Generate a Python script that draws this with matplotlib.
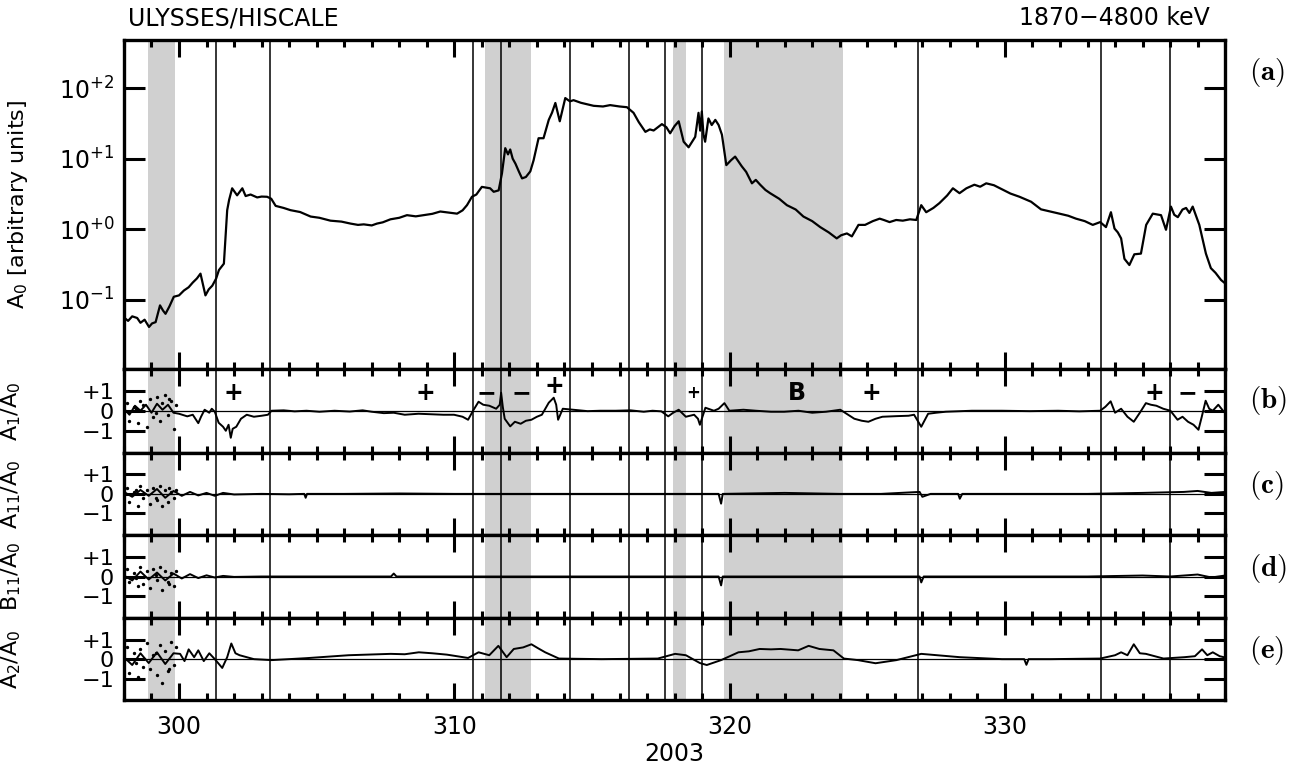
import numpy as np
import matplotlib
matplotlib.use("Agg")
import matplotlib.pyplot as plt
from matplotlib.ticker import FixedLocator, MultipleLocator

plt.rcParams['font.family'] = ['DejaVu Sans']
plt.rcParams['mathtext.fontset'] = 'dejavusans'

# ---- data (day of year 2003) ----
a0_day = [298.0, 298.15, 298.3, 298.48, 298.6, 298.75, 298.91, 299.02, 299.15, 299.31, 299.42,
          299.51, 299.65, 299.81, 300.0, 300.18, 300.35, 300.5, 300.65, 300.78, 300.96, 301.08,
          301.21, 301.35, 301.45, 301.63, 301.69, 301.75, 301.82, 301.93, 302.11, 302.3, 302.42,
          302.6, 302.84, 303.0, 303.2, 303.35, 303.51, 303.8, 304.05, 304.4, 304.78, 305.1, 305.5,
          305.9, 306.23, 306.5, 306.71, 307.0, 307.19, 307.4, 307.68, 308.0, 308.28, 308.6,
          308.89, 309.2, 309.49, 309.8, 310.1, 310.3, 310.46, 310.64, 310.8, 311.0, 311.3, 311.43,
          311.61, 311.73, 311.85, 311.95, 312.03, 312.12, 312.22, 312.35, 312.46, 312.6, 312.76,
          312.88, 313.06, 313.24, 313.43, 313.55, 313.67, 313.83, 314.03, 314.2, 314.33, 314.6,
          315.06, 315.4, 315.66, 316.0, 316.27, 316.51, 316.7, 316.94, 317.1, 317.24, 317.54,
          317.7, 317.84, 318.0, 318.15, 318.33, 318.51, 318.75, 318.87, 318.93, 318.99, 319.05,
          319.11, 319.23, 319.35, 319.48, 319.6, 319.72, 319.88, 320.05, 320.2, 320.44, 320.6,
          320.81, 320.95, 321.11, 321.3, 321.47, 321.8, 322.08, 322.4, 322.68, 323.0, 323.29,
          323.6, 323.89, 324.05, 324.26, 324.44, 324.68, 324.92, 325.2, 325.45, 325.6, 325.81,
          326.05, 326.29, 326.55, 326.78, 326.96, 327.14, 327.4, 327.62, 327.9, 328.11, 328.35,
          328.6, 328.89, 329.1, 329.32, 329.6, 329.92, 330.2, 330.53, 330.95, 331.31, 331.6,
          331.98, 332.3, 332.58, 332.9, 333.19, 333.46, 333.67, 333.85, 333.98, 334.1, 334.22,
          334.34, 334.52, 334.7, 334.94, 335.13, 335.37, 335.67, 335.85, 336.03, 336.15, 336.28,
          336.45, 336.58, 336.7, 336.82, 337.06, 337.3, 337.48, 337.65, 337.85, 338.0]
a0_val = [0.056, 0.050, 0.058, 0.055, 0.047, 0.052, 0.041, 0.046, 0.048, 0.083, 0.070,
          0.063, 0.080, 0.110, 0.115, 0.135, 0.150, 0.175, 0.200, 0.234, 0.115, 0.140,
          0.158, 0.200, 0.263, 0.324, 0.776, 1.86, 2.6, 3.80, 3.02, 3.80, 2.95,
          3.1, 2.82, 2.9, 2.88, 2.7, 2.14, 2.0, 1.86, 1.75, 1.51, 1.45, 1.32,
          1.28, 1.20, 1.15, 1.17, 1.13, 1.20, 1.25, 1.38, 1.45, 1.58, 1.52,
          1.58, 1.65, 1.78, 1.72, 1.66, 1.85, 2.19, 2.88, 3.1, 3.98, 3.80, 3.39,
          3.55, 6.17, 14.1, 11.5, 13.5, 10.0, 8.5, 6.5, 5.25, 5.5, 6.6,
          9.5, 19.5, 19.5, 35.5, 45.0, 61.7, 33.9, 72.4, 65.0, 67.6, 62.0,
          56.2, 55.0, 57.5, 55.0, 53.7, 44.7, 33.0, 24.0, 26.0, 25.1, 30.9,
          28.0, 22.9, 29.0, 33.9, 17.4, 14.5, 20.4, 44.7, 25.0, 46.8, 22.0,
          17.4, 37.2, 30.0, 35.5, 30.0, 21.9, 8.1, 9.5, 10.7, 7.8, 6.5,
          4.47, 5.0, 4.27, 3.6, 3.24, 2.7, 2.19, 1.9, 1.51, 1.3, 1.07,
          0.9, 0.74, 0.82, 0.87, 0.79, 1.15, 1.15, 1.3, 1.41, 1.35, 1.26,
          1.35, 1.32, 1.38, 1.35, 2.19, 1.74, 2.0, 2.34, 3.0, 3.80, 3.24,
          3.8, 4.27, 4.0, 4.47, 4.2, 3.63, 3.2, 2.88, 2.45, 1.91, 1.8,
          1.66, 1.55, 1.41, 1.3, 1.15, 1.26, 1.07, 1.74, 1.02, 0.9, 0.74,
          0.38, 0.31, 0.44, 0.45, 1.15, 1.66, 1.58, 0.98, 2.09, 1.6, 1.48,
          1.9, 2.0, 1.7, 2.09, 1.15, 0.45, 0.28, 0.24, 0.19, 0.17]

a1_day = [298.0, 298.2, 298.4, 298.6, 298.8, 299.0, 299.2, 299.4, 299.6, 299.8, 300.0, 300.3,
          300.5, 300.7, 300.8, 300.93, 301.1, 301.19, 301.3, 301.44, 301.6, 301.7, 301.8, 301.88,
          301.95, 302.08, 302.25, 302.46, 302.72, 303.0, 303.23, 303.36, 303.8, 304.2, 304.63,
          305.1, 305.65, 306.2, 306.67, 307.0, 307.44, 307.8, 308.2, 308.7, 309.22, 309.6, 309.99,
          310.3, 310.5, 310.68, 310.88, 311.05, 311.27, 311.52, 311.65, 311.7, 311.76, 311.83,
          312.03, 312.2, 312.41, 312.6, 312.8, 313.0, 313.18, 313.43, 313.61, 313.7, 313.77,
          313.94, 314.3, 314.84, 315.3, 315.86, 316.4, 316.88, 317.2, 317.52, 317.77, 317.95,
          318.15, 318.41, 318.71, 318.85, 318.92, 319.12, 319.43, 319.6, 319.81, 319.99, 320.5,
          320.96, 321.5, 321.98, 322.5, 323.0, 323.5, 324.02, 324.3, 324.53, 324.8, 325.04, 325.3,
          325.55, 326.06, 326.5, 326.7, 326.96, 327.21, 327.5, 327.85, 328.8, 329.89, 330.9,
          331.93, 332.7, 333.46, 333.65, 333.84, 334.0, 334.22, 334.45, 334.68, 334.9, 335.12,
          335.3, 335.5, 335.75, 336.01, 336.27, 336.45, 336.65, 336.85, 337.03, 337.15, 337.29,
          337.42, 337.55, 337.75, 337.95]
a1_val = [0.1, -0.2, 0.25, 0.0, 0.3, -0.1, 0.35, 0.05, 0.3, -0.1, -0.15, -0.28,
          -0.2, -0.62, -0.3, 0.05, -0.1, 0.1, -0.05, -0.6, -0.8, -1.0, -0.7, -1.35,
          -0.9, -0.8, -0.4, -0.2, -0.3, -0.25, -0.2, 0.0, 0.02, -0.03, 0.0,
          -0.05, 0.0, -0.04, 0.02, -0.05, -0.12, -0.1, -0.2, -0.15, -0.18, -0.2, -0.2,
          -0.3, -0.45, 0.0, 0.45, 0.3, 0.25, 0.1, 0.3, 0.9, 0.2, -0.4,
          -0.78, -0.55, -0.65, -0.5, -0.45, -0.3, -0.2, 0.4, 0.65, 0.3, -0.45,
          0.1, 0.05, -0.02, 0.0, 0.0, 0.02, -0.05, 0.0, -0.03, -0.28, -0.1,
          0.05, -0.3, -0.2, -0.4, -0.7, 0.15, 0.0, 0.1, 0.38, 0.0, 0.05,
          0.0, -0.05, -0.05, 0.0, -0.1, -0.05, 0.05, -0.2, -0.4, -0.5, -0.55, -0.4,
          -0.3, -0.27, -0.25, -0.2, -0.8, -0.15, -0.1, -0.05, 0.0, 0.0, -0.02,
          0.0, -0.03, 0.0, 0.2, 0.47, -0.1, 0.1, -0.3, -0.55, -0.1, 0.38,
          0.3, 0.25, 0.1, 0.0, -0.45, -0.3, -0.55, -0.7, -0.95, -0.3, 0.5,
          0.1, 0.0, 0.3, -0.05]

a11_day = [298.0, 298.3, 298.6, 298.9, 299.2, 299.5, 299.8, 300.1, 300.4, 300.7, 301.0, 301.3,
           301.6, 302.0, 303.0, 304.0, 304.55, 304.6, 304.65, 306.0, 308.0, 310.0, 312.0, 314.0,
           316.0, 318.0, 319.6, 319.69, 319.75, 322.0, 324.0, 325.5, 326.9, 327.0, 327.3, 328.3,
           328.36, 328.45, 329.0, 333.0, 335.0, 336.5, 337.0, 337.5, 338.0]
a11_val = [0.1, -0.15, 0.2, -0.1, 0.25, -0.2, 0.15, -0.1, 0.1, -0.08, 0.05, -0.1,
           0.05, -0.03, 0.0, -0.02, 0.0, -0.2, 0.0, 0.0, 0.02, 0.0, 0.0, 0.0,
           0.0, 0.0, 0.0, -0.5, 0.0, 0.05, 0.0, 0.0, 0.1, -0.15, 0.0, 0.0,
           -0.25, 0.0, 0.0, 0.0, 0.05, 0.1, 0.15, 0.05, 0.1]

b11_day = [298.0, 298.3, 298.6, 298.9, 299.2, 299.5, 299.8, 300.1, 300.4, 300.7, 301.0, 301.3,
           301.6, 302.0, 303.0, 305.0, 307.7, 307.8, 307.9, 310.0, 312.0, 314.0, 316.0, 318.0,
           319.6, 319.69, 319.75, 322.0, 324.0, 326.9, 326.96, 327.05, 329.0, 331.0, 333.0,
           335.0, 336.0, 337.0, 337.5, 338.0]
b11_val = [0.05, -0.2, 0.25, -0.15, 0.2, -0.2, 0.15, -0.1, 0.12, -0.08, 0.06, -0.05,
           0.03, -0.02, 0.0, 0.0, 0.0, 0.15, 0.0, 0.0, 0.0, 0.0, 0.0, 0.0,
           0.0, -0.45, 0.0, 0.0, 0.0, 0.0, -0.3, 0.0, 0.0, 0.0, 0.0,
           0.05, 0.0, 0.1, -0.05, 0.05]

a2_day = [298.0, 298.3, 298.6, 298.9, 299.2, 299.5, 299.8, 300.04, 300.2, 300.35, 300.55,
          300.7, 300.9, 301.1, 301.3, 301.57, 301.75, 301.9, 302.05, 302.2, 302.72, 303.36,
          304.63, 306.16, 307.69, 308.2, 308.71, 309.2, 309.73, 310.5, 310.88, 311.27, 311.6,
          311.9, 312.16, 312.5, 312.8, 313.05, 313.3, 313.8, 315.35, 317.39, 318.02, 318.41,
          318.92, 319.17, 319.69, 320.32, 320.7, 321.09, 321.5, 321.85, 322.49, 322.87, 323.26,
          323.77, 324.15, 324.66, 325.3, 326.06, 326.96, 328.36, 329.89, 330.7, 330.78, 330.86,
          331.67, 333.46, 334.0, 334.22, 334.45, 334.68, 334.9, 335.12, 335.76, 336.52, 336.9,
          337.16, 337.35, 337.55, 337.8, 337.95]
a2_val = [0.1, -0.3, 0.3, -0.2, 0.35, -0.25, 0.3, 0.27, -0.1, 0.5, 0.1,
          0.45, -0.1, 0.3, 0.0, -0.45, 0.1, 0.8, 0.3, 0.2, 0.0, -0.05,
          0.05, 0.2, 0.27, 0.25, 0.35, 0.3, 0.23, 0.06, 0.35, 0.2, 0.68,
          0.1, 0.52, 0.6, 0.76, 0.55, 0.35, 0.03, 0.0, 0.03, 0.27, 0.2,
          -0.2, -0.3, -0.05, 0.35, 0.4, 0.52, 0.5, 0.52, 0.45, 0.68, 0.52,
          0.45, 0.03, -0.05, -0.21, -0.05, 0.27, 0.1, 0.0, 0.0, -0.29, 0.0,
          0.0, 0.03, 0.2, 0.35, 0.2, 0.76, 0.3, 0.27, 0.03, 0.1, 0.15,
          0.5, 0.2, 0.35, 0.15, 0.1]

# scattered points in the low-count interval at the start
dots_day = [298.1, 298.2, 298.35, 298.5, 298.6, 298.7, 298.85, 298.95, 299.05, 299.2,
            299.3, 299.4, 299.5, 299.6, 299.7, 299.8, 299.9, 298.45, 299.15, 299.65]
dots_a1 = [0.4, -0.5, 0.2, -0.6, 0.5, 0.3, -0.8, 0.6, -0.3, 0.7,
           -0.5, 0.4, 0.8, -0.2, 0.5, -0.9, 0.3, 0.1, -0.1, 0.6]
dots_a11 = [0.3, -0.4, 0.1, -0.6, 0.4, -0.2, 0.2, -0.5, 0.3, -0.3,
            0.4, -0.6, 0.2, -0.4, 0.1, -0.2, 0.2, 0.2, -0.2, 0.3]
dots_b11 = [0.4, -0.3, 0.2, -0.5, 0.5, -0.4, 0.3, -0.6, 0.4, -0.2,
            0.5, -0.7, 0.3, -0.3, 0.2, -0.5, 0.3, -0.1, 0.1, -0.4]
dots_a2 = [0.6, -0.7, 0.3, -0.9, 0.5, -0.4, 0.8, -0.5, 0.2, -0.8,
           0.7, -1.2, 0.4, -0.6, 0.9, -0.3, 0.6, -0.2, 0.3, -0.5]

shade_start = [298.87, 311.10, 317.93, 319.78]
shade_end = [299.84, 312.80, 318.42, 324.12]
event_lines = [301.34, 303.30, 310.67, 311.70, 314.19, 316.33, 317.65, 318.99,
               326.83, 333.50, 336.00]

mark_day = [301.96, 308.95, 311.16, 312.43, 313.64, 318.69, 322.44, 325.14, 335.42, 336.62]
mark_val = [0.9, 0.9, 0.9, 0.9, 1.25, 0.9, 0.9, 0.9, 0.9, 0.9]
mark_txt = ['+', '+', '−', '−', '+', '+', 'B', '+', '+', '−']
mark_size = [17, 17, 17, 17, 17, 12, 17, 17, 17, 17]

panel_tags = ['(a)', '(b)', '(c)', '(d)', '(e)']
ylabels = [r'A$_0$ [arbitrary units]', r'A$_1$/A$_0$', r'A$_{11}$/A$_0$',
           r'B$_{11}$/A$_0$', r'A$_2$/A$_0$']

# ---- figure ----
fig = plt.figure(figsize=(13.02, 7.72), dpi=100)
gs = fig.add_gridspec(5, 1, height_ratios=[328, 84, 82, 83, 82],
                      left=0.0952, right=0.941, top=0.948, bottom=0.093, hspace=0)
axes = [fig.add_subplot(gs[i]) for i in range(5)]

small = [(a1_day, a1_val, dots_a1), (a11_day, a11_val, dots_a11),
         (b11_day, b11_val, dots_b11), (a2_day, a2_val, dots_a2)]

for i, ax in enumerate(axes):
    for s, e in zip(shade_start, shade_end):
        ax.axvspan(s, e, color='#d0d0d0', lw=0, zorder=0)
    for d in event_lines:
        ax.axvline(d, color='black', lw=1.1, zorder=1)
    ax.set_xlim(298, 338)
    ax.xaxis.set_major_locator(MultipleLocator(10))
    ax.xaxis.set_minor_locator(MultipleLocator(1))
    ax.tick_params(axis='x', which='major', direction='in', length=12, width=2.2,
                   top=True, bottom=True, labelsize=17, pad=11)
    ax.tick_params(axis='x', which='minor', direction='in', length=5, width=2.2,
                   top=True, bottom=True)
    ax.tick_params(axis='y', which='major', direction='in', length=15, width=2.2,
                   left=True, right=True, labelsize=17, pad=7)
    ax.tick_params(axis='y', which='minor', left=False, right=False)
    for sp in ax.spines.values():
        sp.set_linewidth(2.4)
    if i < 4:
        ax.tick_params(axis='x', labelbottom=False)
    ax.text(1.022, [0.9, 0.62, 0.6, 0.6, 0.6][i], r'$\mathbf{' + panel_tags[i] + '}$',
            transform=ax.transAxes, fontsize=21, ha='left', va='center',
            math_fontfamily='cm')

# panel (a)
ax = axes[0]
ax.plot(a0_day, a0_val, color='black', lw=1.6, zorder=3)
ax.set_yscale('log')
ax.set_ylim(0.0105, 480)
ax.yaxis.set_major_locator(FixedLocator([0.1, 1, 10, 100]))
ax.yaxis.set_minor_locator(FixedLocator([]))
ax.set_yticklabels([r'$10^{-1}$', r'$10^{+0}$', r'$10^{+1}$', r'$10^{+2}$'])
ax.set_ylabel(ylabels[0], fontsize=16)
ax.yaxis.set_label_coords(-0.085, 0.5)

# panels (b)-(e)
for k, (d, v, dots) in enumerate(small):
    ax = axes[k + 1]
    ax.axhline(0, color='black', lw=0.9, zorder=2)
    ax.plot(d, v, color='black', lw=1.4, zorder=3)
    ax.scatter(dots_day, dots, s=2, color='black', zorder=3)
    ax.set_ylim(-2.1, 2.1)
    ax.set_yticks([-1, 0, 1])
    ax.set_yticklabels(['−1', '0', '+1'])
    ax.tick_params(axis='y', labelsize=16)
    ax.set_ylabel(ylabels[k + 1], fontsize=16)
    ax.yaxis.set_label_coords(-0.092, 0.5)

for d, v, t, fs in zip(mark_day, mark_val, mark_txt, mark_size):
    axes[1].text(d, v, t, fontsize=fs, weight='bold', ha='center', va='center', zorder=4)

axes[4].set_xlabel('2003', fontsize=17, labelpad=2)

fig.text(128 / 1302, 1 - 18 / 772, 'ULYSSES/HISCALE', fontsize=17, ha='left', va='center')
fig.text(1210 / 1302, 1 - 18 / 772, '1870−4800 keV', fontsize=17, ha='right', va='center')

fig.savefig('out.png', dpi=100)
